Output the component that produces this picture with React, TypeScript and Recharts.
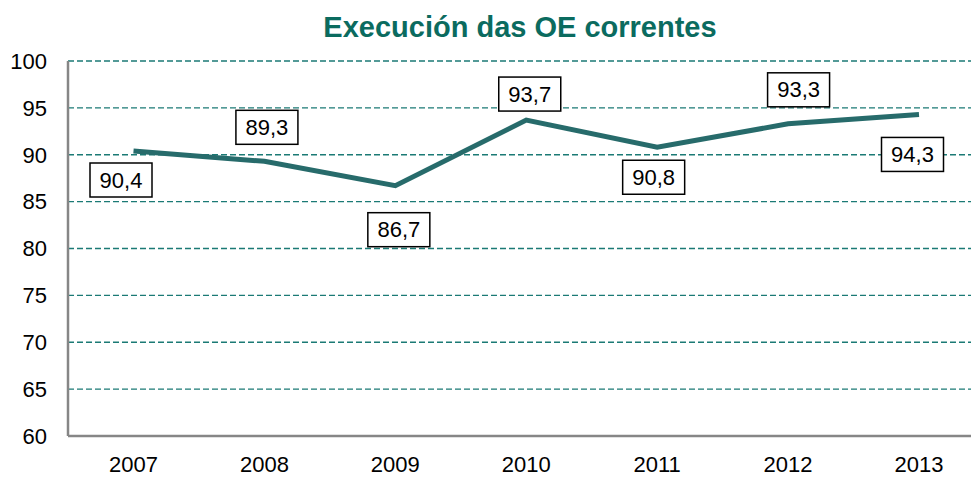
import React from "react";
import { LineChart, Line, XAxis, YAxis, CartesianGrid } from "recharts";

const years = ["2007", "2008", "2009", "2010", "2011", "2012", "2013"];
const execution = [90.4, 89.3, 86.7, 93.7, 90.8, 93.3, 94.3];
const yTicks = [60, 65, 70, 75, 80, 85, 90, 95, 100];
const title = "Execución das OE correntes";

// label box offsets (layout only)
const labelOffsets = [
  [-12.5, 29],
  [2.5, -34],
  [3.5, 44],
  [3.5, -26],
  [-3.5, 30],
  [10.5, -34],
  [-6.5, 40],
];

const data = years.map((y, i) => ({ year: y, value: execution[i] }));

const FONT = "Arial, 'Liberation Sans', sans-serif";

const BoxLabel = (props: any) => {
  const { x, y, value, index } = props;
  if (x == null || y == null) return null;
  const [dx, dy] = labelOffsets[index] || [0, 0];
  const cx = x + dx;
  const cy = y + dy;
  const w = 62;
  const h = 34;
  const txt = String(value).replace(".", ",");
  return (
    <g>
      <rect x={cx - w / 2} y={cy - h / 2} width={w} height={h} fill="#fff" stroke="#000" strokeWidth={1.5} />
      <text x={cx} y={cy} textAnchor="middle" dominantBaseline="central" fontFamily={FONT} fontSize={22} fill="#000">
        {txt}
      </text>
    </g>
  );
};

export default function App() {
  return (
    <div style={{ position: "absolute", left: 0, top: 0, width: 971, height: 488, overflow: "hidden", background: "#fff" }}>
      <div
        style={{
          position: "absolute",
          left: 0,
          top: 9,
          width: 1040,
          textAlign: "center",
          fontFamily: FONT,
          fontWeight: "bold",
          fontSize: 29,
          color: "#0B6B5F",
          lineHeight: "36px",
        }}
      >
        {title}
      </div>
      <LineChart
        width={990}
        height={488}
        data={data}
        margin={{ top: 61, right: 5.5, bottom: 22, left: 0 }}
      >
        <CartesianGrid vertical={false} stroke="#1B7A75" strokeDasharray="6 3" strokeWidth={1.3} />
        <XAxis
          dataKey="year"
          interval={0}
          tickSize={0}
          tickMargin={20}
          padding={{ left: 65.5, right: 65.5 }}
          axisLine={{ stroke: "#868686", strokeWidth: 2.5 }}
          tick={{ fill: "#000", fontSize: 22, fontFamily: FONT }}
        />
        <YAxis
          width={68}
          domain={[60, 100]}
          ticks={yTicks}
          tickSize={0}
          tickMargin={21}
          axisLine={{ stroke: "#868686", strokeWidth: 2.5 }}
          tick={{ fill: "#000", fontSize: 22, fontFamily: FONT }}
        />
        <Line
          dataKey="value"
          stroke="#276B6B"
          strokeWidth={5}
          dot={false}
          isAnimationActive={false}
          label={(p: any) => <BoxLabel {...p} />}
        />
      </LineChart>
    </div>
  );
}
